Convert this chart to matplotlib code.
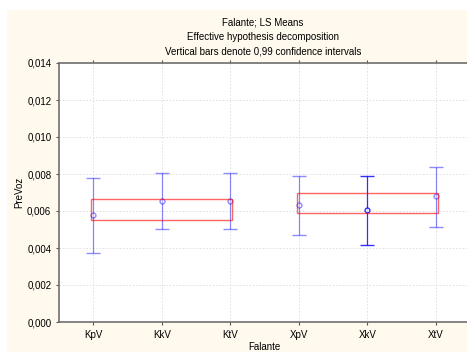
import matplotlib
matplotlib.use("Agg")
import matplotlib.pyplot as plt
from matplotlib.patches import Rectangle
from matplotlib.ticker import FuncFormatter

# LS means per falante, with 0.99 confidence limits
falantes = ["KpV", "KkV", "KtV", "XpV", "XkV", "XtV"]
means = [0.00578, 0.00656, 0.00656, 0.00632, 0.00604, 0.00679]
upper = [0.00777, 0.00807, 0.00807, 0.00791, 0.00791, 0.00836]
lower = [0.00373, 0.00501, 0.00501, 0.00472, 0.00416, 0.00514]

# red boxes over each group (first idx, last idx, low, high)
box_groups = [(0, 2), (3, 5)]
box_low = [0.00553, 0.00591]
box_high = [0.00667, 0.00696]

plt.rcParams["font.family"] = ["Liberation Sans", "DejaVu Sans"]

fig = plt.figure(figsize=(4.67, 3.52), dpi=100, facecolor="white")
# cream panel behind the chart
fig.patches.append(Rectangle((7 / 467, 0), 1, (352 - 10) / 352,
                             transform=fig.transFigure, facecolor="#fff9ee",
                             edgecolor="none", zorder=-10))

ax = fig.add_axes([59 / 467, 30 / 352, 411 / 467, 259 / 352])
ax.set_facecolor("white")

x = list(range(len(falantes)))
for i in x:
    alpha = 0.8 if falantes[i] == "XkV" else 0.45
    ax.errorbar(i, means[i], yerr=[[means[i] - lower[i]], [upper[i] - means[i]]],
                fmt="o", color="blue", mfc="white", mec="blue", ms=3.5, mew=1,
                capsize=5, elinewidth=0.9, capthick=0.9, alpha=alpha, zorder=3)

for (a, b), lo, hi in zip(box_groups, box_low, box_high):
    ax.add_patch(Rectangle((a - 0.03, lo), b - a + 0.06, hi - lo, fill=False,
                           edgecolor="red", lw=1, alpha=0.6, zorder=4))

ax.set_xlim(-0.5, 5.5)
ax.set_ylim(0, 0.014)
ax.set_yticks([0.000, 0.002, 0.004, 0.006, 0.008, 0.010, 0.012, 0.014])
ax.yaxis.set_major_formatter(FuncFormatter(lambda v, p: f"{v:.3f}".replace(".", ",")))
ax.set_xticks(x)
ax.set_xticklabels(falantes)
ax.tick_params(labelsize=7, length=2, color="#555555", top=True, right=False)
ax.grid(True, linestyle=(0, (2, 2)), color="#dddddd", lw=0.6)
for side in ["left", "bottom", "top"]:
    ax.spines[side].set_color("#707070")
    ax.spines[side].set_linewidth(1.2)
ax.spines["right"].set_visible(False)

ax.set_xlabel("Falante", fontsize=7, labelpad=2)
ax.set_ylabel("PreVoz", fontsize=7, labelpad=2)
ax.set_title("Falante; LS Means\nEffective hypothesis decomposition\n"
             "Vertical bars denote 0,99 confidence intervals",
             fontsize=7, linespacing=1.55, pad=6, x=(263 - 59) / 411)

fig.savefig("out.png", dpi=100, facecolor=fig.get_facecolor())
